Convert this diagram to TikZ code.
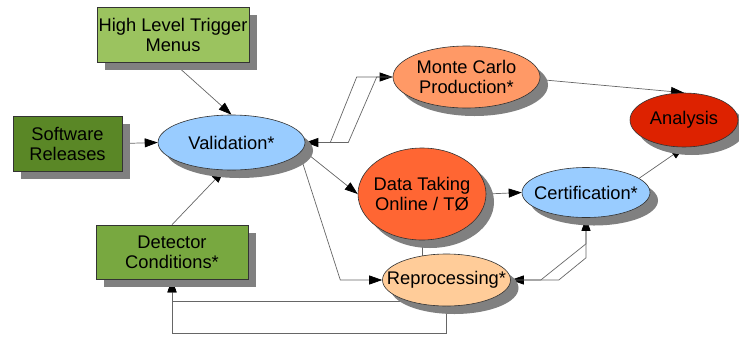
\documentclass[tikz,border=0pt]{standalone}
\usepackage{fontspec}
\setmainfont{Liberation Sans}
\usetikzlibrary{arrows.meta,shapes.geometric,shadows,calc,backgrounds}

\definecolor{hltgreen}{RGB}{155,195,95}
\definecolor{swgreen}{RGB}{90,135,38}
\definecolor{detgreen}{RGB}{120,168,64}
\definecolor{skyblue}{RGB}{153,204,255}
\definecolor{salmon}{RGB}{255,153,102}
\definecolor{datared}{RGB}{255,102,51}
\definecolor{anared}{RGB}{221,34,0}
\definecolor{peach}{RGB}{255,204,153}
\definecolor{shadowgray}{RGB}{128,128,128}

\begin{document}
\begin{tikzpicture}[x=1pt,y=-1pt,>={Triangle[length=13pt,width=9pt,color=black]},
				font=\fontsize{18.3}{20}\selectfont,
				dropped/.style={drop shadow={shadow xshift=8pt,shadow yshift=-8pt,fill=shadowgray,opacity=1}},
				box/.style={rectangle,draw=black!80,line width=0.6pt,dropped,align=center,inner sep=0pt},
				blob/.style={ellipse,draw=black!80,line width=0.6pt,dropped,align=center,inner sep=-40pt},
				link/.style={draw=black!60,line width=0.7pt}]
				\useasboundingbox (0,0) rectangle (739,338);
				% inputs
				\node[box,fill=hltgreen,minimum width=152pt,minimum height=55pt] (hlt) at (173,34.5) {High Level Trigger\\Menus};
				\node[box,fill=swgreen,minimum width=109pt,minimum height=55pt] (sw) at (67.5,143.5) {Software\\Releases};
				\node[box,fill=detgreen,minimum width=152pt,minimum height=54pt] (det) at (172,252) {Detector\\Conditions*};
				% processing steps
				\node[blob,fill=skyblue,minimum width=147pt,minimum height=55pt] (val) at (231.5,142.5) {Validation*};
				\node[blob,fill=salmon,minimum width=147pt,minimum height=62pt] (mc) at (466.5,77) {Monte Carlo\\Production*};
				\node[blob,fill=datared,minimum width=128pt,minimum height=92pt] (data) at (422,194) {Data Taking\\Online / TØ};
				\node[blob,fill=skyblue,minimum width=128pt,minimum height=50pt] (cert) at (586,192.5) {Certification*};
				\node[blob,fill=anared,minimum width=108pt,minimum height=54pt] (ana) at (684,120) {Analysis};
				\node[blob,fill=peach,minimum width=128pt,minimum height=52pt] (repro) at (446.5,280) {Reprocessing*};
				\coordinate (vr) at ($(val.east)+(35,0)$);
				
				\begin{scope}[on background layer]
					\draw[link,->] (hlt.south) -- (val.north);
					\draw[link,->] (sw.east) -- (val.west);
					\draw[link,->] (det.north) -- (val.255);
					\draw[link,->] (val.east) -- ++(25,0) -- ($(mc.west)+(-36,0)$) -- (mc.west);
					\draw[link,->] (mc.west) -- ++(-16,0) -- ($(val.east)+(43,0)$) -- (val.east);
					\draw[link,->] (val.-6) -- (data.west);
					\draw[link,->] (val.-9) -- (vr |- repro.west) -- (repro.west);
					\draw[link] (data.south) -- (data.south |- repro.center);
					\draw[link,->] (data.east) -- (cert.west);
					\draw[link,->] (cert.south) -- ++(0,40) -- ($(repro.east)+(48,0)$) -- (repro.east);
					\draw[link,->] (repro.east) -- ++(30,0) -- ($(cert.south)+(0,26)$) -- (cert.south);
					\draw[link,->] (repro.210) -| (det.south);
					\draw[link,->] (repro.south) -- ++(0,27) -| (det.south);
					\draw[link,->] (mc.-2) -- (ana.north);
					\draw[link,->] (cert.15) -- (ana.south);
				\end{scope}
			\end{tikzpicture}
\end{document}
